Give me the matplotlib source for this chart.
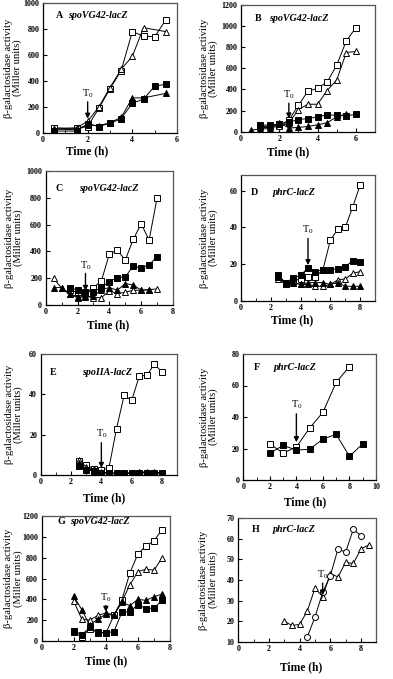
import matplotlib
matplotlib.use("Agg")
import matplotlib.pyplot as plt
from matplotlib.ticker import MultipleLocator

plt.rcParams['font.family'] = ['Liberation Serif', 'DejaVu Serif']
plt.rcParams['mathtext.default'] = 'regular'

# ---------------- data ----------------
# Panel A
A_t_os = [0.5, 1.5, 2, 2.5, 3, 3.5, 4, 4.5, 5, 5.5]
A_os = [40, 35, 50, 190, 340, 480, 780, 745, 740, 870]
A_t_ot = [0.5, 1.5, 2, 2.5, 3, 3.5, 4, 4.5, 5.5]
A_ot = [30, 40, 90, 200, 350, 490, 590, 810, 780]
A_t_fs = [0.5, 1.5, 2, 2.5, 3, 3.5, 4, 4.5, 5, 5.5]
A_fs = [15, 15, 70, 50, 75, 110, 230, 260, 360, 375]
A_t_ft = [0.5, 1.5, 2, 2.5, 3, 3.5, 4, 4.5, 5.5]
A_ft = [30, 25, 65, 55, 80, 120, 270, 270, 305]

# Panel B
B_t_os = [1, 1.5, 2, 2.5, 3, 3.5, 4, 4.5, 5, 5.5, 6]
B_os = [50, 50, 60, 110, 250, 385, 410, 470, 630, 860, 985]
B_t_ot = [1, 1.5, 2, 2.5, 3, 3.5, 4, 4.5, 5, 5.5, 6]
B_ot = [40, 40, 50, 80, 210, 260, 260, 390, 490, 750, 760]
B_t_fs = [1, 1.5, 2, 2.5, 3, 3.5, 4, 4.5, 5, 5.5, 6]
B_fs = [60, 65, 70, 90, 115, 125, 140, 160, 155, 150, 165]
B_t_ft = [0.5, 1, 1.5, 2, 2.5, 3, 3.5, 4, 4.5, 5, 5.5]
B_ft = [15, 25, 30, 85, 35, 40, 50, 65, 85, 140, 170]

# Panel C
C_t_os = [1.5, 2, 2.5, 3, 3.5, 4, 4.5, 5, 5.5, 6, 6.5, 7]
C_os = [110, 95, 90, 130, 180, 380, 410, 335, 490, 605, 485, 800]
C_t_ot = [0.5, 1, 1.5, 2, 2.5, 3, 3.5, 4, 4.5, 5, 5.5, 6, 6.5, 7]
C_ot = [200, 125, 80, 55, 65, 55, 55, 105, 85, 95, 110, 110, 115, 120]
C_t_fs = [1.5, 2, 2.5, 3, 3.5, 4, 4.5, 5, 5.5, 6, 6.5, 7]
C_fs = [125, 115, 100, 100, 130, 175, 205, 210, 290, 275, 300, 360]
C_t_ft = [0.5, 1, 1.5, 2, 2.5, 3, 3.5, 4, 4.5, 5, 5.5, 6, 6.5]
C_ft = [130, 130, 85, 60, 60, 65, 115, 130, 110, 160, 150, 110, 115]

# Panel D
D_t = [2.5, 3, 3.5, 4, 4.5, 5, 5.5, 6, 6.5, 7, 7.5, 8]
D_os = [13, 9, 11, 12, 13, 13, 17, 33, 39, 40, 51, 63]
D_fs = [14, 10, 12.5, 14, 18, 16, 17, 17, 17.5, 18.5, 22, 21]
D_ot = [12, 9, 10, 9, 9, 8, 8, 9, 11.5, 12, 15, 16]
D_ft = [13, 10, 10, 9, 10, 10, 10, 9, 10, 8, 8, 8]

# Panel E
E_t = [2.5, 3, 3.5, 4, 4.5, 5, 5.5, 6, 6.5, 7, 7.5, 8]
E_os = [7, 5, 3, 2.5, 3.5, 23, 39.5, 37, 49, 49.5, 55, 51]
E_fs = [4.5, 2.5, 2, 1, 1, 0.8, 0.8, 0.8, 1, 1, 1, 0.8]
E_ot = [7.5, 4, 3, 1.5, 1, 0.8, 1, 1, 1.5, 1.5, 1.5, 1]
E_ft = [6, 3, 2.5, 1, 1, 0.8, 1, 1, 1.2, 1.2, 1.2, 1]

# Panel F
F_t_os = [2, 3, 4, 5, 6, 7, 8]
F_os = [23, 17, 21, 33, 43, 62, 72]
F_t_fs = [2, 3, 4, 5, 6, 7, 8, 9]
F_fs = [17, 22, 19, 19.5, 26, 29, 15, 23]

# Panel G
G_t = [2, 2.5, 3, 3.5, 4, 4.5, 5, 5.5, 6, 6.5, 7, 7.5]
G_os = [85, 35, 120, 80, 75, 245, 395, 655, 835, 915, 960, 1070]
G_ot = [380, 210, 200, 245, 270, 250, 380, 540, 665, 690, 680, 795]
G_fs = [100, 60, 130, 85, 80, 90, 275, 280, 350, 312, 315, 390]
G_ft = [430, 300, 150, 215, 255, 250, 370, 340, 400, 390, 425, 450]

# Panel H
H_t_ot = [3, 3.5, 4, 4.5, 5, 5.5, 6, 6.5, 7, 7.5, 8, 8.5]
H_ot = [20, 18, 18.5, 25, 36, 32, 43, 41.5, 48.5, 48, 55, 57]
H_t_oc = [4.5, 5, 5.5, 6, 6.5, 7, 7.5, 8]
H_oc = [12.5, 22, 34, 42, 55, 53.5, 64.5, 61.5]

# ---------------- layout ----------------
W, H = 393, 679
fig = plt.figure(figsize=(W / 100, H / 100), dpi=100)


def make_ax(l, t, r, b):
    return fig.add_axes([l / W, 1 - b / H, (r - l) / W, (b - t) / H])


OS = dict(marker='s', mfc='white', mec='black')
OT = dict(marker='^', mfc='white', mec='black')
FS = dict(marker='s', mfc='black', mec='black')
FT = dict(marker='^', mfc='black', mec='black')
OC = dict(marker='o', mfc='white', mec='black')


def series(ax, x, y, st, ms=3.8):
    ax.plot(x, y, color='black', lw=0.7, ms=ms, mew=0.7, **st)


def style(ax, xlim, ylim, xticks, yticks, letter, gene, lx, gx, ly,
          ylx, xlx, xly):
    ax.set_xlim(*xlim)
    ax.set_ylim(*ylim)
    ax.set_xticks(xticks)
    ax.set_yticks(yticks)
    ax.xaxis.set_minor_locator(MultipleLocator(1))
    ax.tick_params(direction='in', length=3, width=0.8, labelsize=5.8, pad=2.5)
    ax.tick_params(which='minor', direction='in', length=2, width=0.6)
    for lab in ax.get_xticklabels() + ax.get_yticklabels():
        lab.set_fontweight('bold')
    for s in ax.spines.values():
        s.set_linewidth(0.9)
    ax.spines['top'].set_color('#555555')
    ax.spines['right'].set_color('#555555')
    ax.set_xlabel('Time (h)', fontsize=8.3, fontweight='bold')
    ax.xaxis.set_label_coords(xlx, xly)
    ax.set_ylabel('β-galactosidase activity\n(Miller units)', fontsize=7.6,
                  linespacing=0.95)
    ax.yaxis.set_label_coords(ylx, 0.5)
    ax.text(lx, ly, letter, transform=ax.transAxes, fontsize=7.2,
            fontweight='bold', va='center', ha='left')
    ax.text(gx, ly, gene, transform=ax.transAxes, fontsize=7.2,
            fontweight='bold', style='italic', va='center', ha='left')


def t0(ax, x, ytext, ystart, yend):
    ax.text(x, ytext, 'T$_0$', fontsize=7.5, ha='center', va='bottom')
    ax.annotate('', xy=(x, yend), xytext=(x, ystart),
                arrowprops=dict(arrowstyle='-|>', lw=1.0, color='black',
                                mutation_scale=7, shrinkA=0, shrinkB=0))


# A
ax = make_ax(43, 3, 177, 133)
series(ax, A_t_os, A_os, OS)
series(ax, A_t_ot, A_ot, OT)
series(ax, A_t_fs, A_fs, FS)
series(ax, A_t_ft, A_ft, FT)
style(ax, (0, 6), (0, 1000), [0, 2, 4, 6], range(0, 1001, 200),
      'A', 'spoVG42-lacZ', 0.1, 0.19, 0.9, -0.157, 0.332, -0.098)
t0(ax, 2, 255, 240, 110)

# B
ax = make_ax(241, 5, 375, 131.7)
series(ax, B_t_os, B_os, OS)
series(ax, B_t_ot, B_ot, OT)
series(ax, B_t_fs, B_fs, FS)
series(ax, B_t_ft, B_ft, FT)
style(ax, (0, 7), (0, 1200), [0, 2, 4, 6], range(0, 1201, 200),
      'B', 'spoVG42-lacZ', 0.1, 0.21, 0.89, -0.17, 0.353, -0.118)
t0(ax, 2.5, 290, 270, 125)

# C
ax = make_ax(45.7, 171, 173, 305)
series(ax, C_t_os, C_os, OS)
series(ax, C_t_ot, C_ot, OT)
series(ax, C_t_fs, C_fs, FS)
series(ax, C_t_ft, C_ft, FT)
style(ax, (0, 8), (0, 1000), range(0, 9, 2), range(0, 1001, 200),
      'C', 'spoVG42-lacZ', 0.08, 0.26, 0.87, -0.178, 0.49, -0.107)
t0(ax, 2.5, 250, 235, 105)

# D
ax = make_ax(241, 175, 375, 301)
series(ax, D_t, D_os, OS)
series(ax, D_t, D_ot, OT)
series(ax, D_t, D_fs, FS)
series(ax, D_t, D_ft, FT)
style(ax, (0, 9), (0, 68.5), range(0, 9, 2), range(0, 61, 20),
      'D', 'phrC-lacZ', 0.07, 0.24, 0.86, -0.17, 0.378, -0.103)
t0(ax, 4.5, 35.5, 34, 19.5)

# E
ax = make_ax(40.7, 354, 177.2, 475)
series(ax, E_t, E_os, OS)
series(ax, E_t, E_ot, OT)
series(ax, E_t, E_fs, FS)
series(ax, E_t, E_ft, FT)
style(ax, (0, 9), (0, 60), range(0, 9, 2), range(0, 61, 20),
      'E', 'spoIIA-lacZ', 0.07, 0.3, 0.85, -0.13, 0.464, -0.146)
t0(ax, 4, 17.5, 16, 3.5)

# F
ax = make_ax(243.3, 354, 376, 480)
series(ax, F_t_os, F_os, OS)
series(ax, F_t_fs, F_fs, FS)
style(ax, (0, 10), (0, 80), range(0, 11, 2), range(0, 81, 20),
      'F', 'phrC-lacZ', 0.08, 0.23, 0.89, -0.19, 0.465, -0.132)
t0(ax, 4, 44, 42, 24)

# G
ax = make_ax(41.7, 516, 170, 641)
series(ax, G_t, G_os, OS)
series(ax, G_t, G_ot, OT)
series(ax, G_t, G_fs, FS)
series(ax, G_t, G_ft, FT)
style(ax, (0, 8), (0, 1200), range(0, 9, 2), range(0, 1201, 200),
      'G', 'spoVG42-lacZ', 0.12, 0.22, 0.955, -0.148, 0.5, -0.112)
t0(ax, 4, 360, 340, 280)

# H
ax = make_ax(238.3, 518, 376.3, 642)
series(ax, H_t_ot, H_ot, OT)
series(ax, H_t_oc, H_oc, OC, ms=4.3)
style(ax, (0, 9), (10, 70), range(0, 9, 2), range(10, 71, 10),
      'H', 'phrC-lacZ', 0.1, 0.25, 0.91, -0.15, 0.454, -0.159)
t0(ax, 5.5, 39.5, 38.5, 32.5)

fig.savefig('out.png', dpi=100)
